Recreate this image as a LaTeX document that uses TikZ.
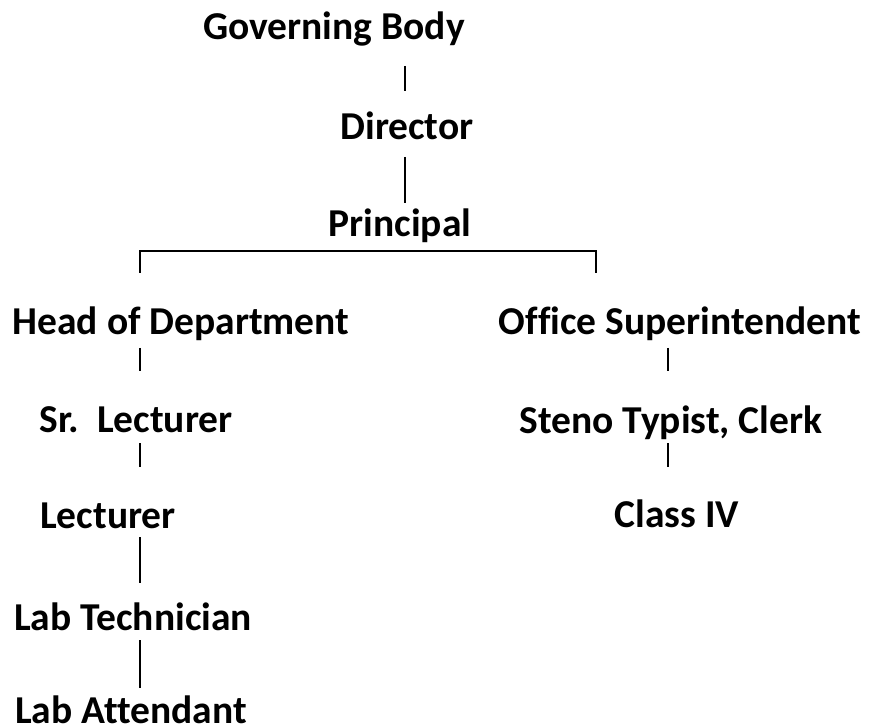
\documentclass[tikz,border=0pt]{standalone}
\usepackage{fontspec}
\setmainfont{Carlito}[Ligatures=NoCommon]
\usetikzlibrary{positioning}

\begin{document}
\begin{tikzpicture}[
  x=1pt, y=-1pt,
  role/.style = {anchor=base, inner sep=0pt, font=\fontsize{39.5}{46}\selectfont\bfseries},
  link/.style = {draw, line width=1.5pt}
]
\useasboundingbox (0,0) rectangle (873,727);

% ---- top of the chain ----
\node[role] (gov) at (334,40)  {Governing Body};
\node[role] (dir) at (407,140) {Director};
\node[role] (pri) at (400,237) {Principal};

% ---- two branches ----
\node[role] (hod)   at (181,335) {Head of Department};
\node[role] (osup)  at (680,335) {Office Superintendent};
\node[role] (srl)   at (136,432) {Sr.\ \ Lecturer};
\node[role] (steno) at (671,433) {Steno Typist, Clerk};
\node[role] (lec)   at (108,528) {Lecturer};
\node[role] (cls)   at (677,527) {Class IV};
\node[role] (tech)  at (133,630) {Lab Technician};
\node[role] (att)   at (131,723) {Lab Attendant};

% ---- bracket under the principal ----
\coordinate (bl) at (140,251);
\coordinate (br) at (596,251);

% ---- connectors ----
\draw[link] ([xshift=71pt,yshift=-26pt]gov.base) -- ([xshift=-2pt,yshift=49pt]dir.base);
\draw[link] ([xshift=-2pt,yshift=-17pt]dir.base) -- ([xshift=5pt,yshift=34pt]pri.base);
\draw[link] ([yshift=-22pt]bl) -- (bl) -- (br) -- ([yshift=-22pt]br);

\draw[link] ([xshift=-41pt,yshift=-13pt]hod.base) -- ([xshift=4pt,yshift=61pt]srl.base);
\draw[link] ([xshift=4pt,yshift=-11pt]srl.base) -- ([xshift=32pt,yshift=61pt]lec.base);
\draw[link] ([xshift=32pt,yshift=-9pt]lec.base) -- ([xshift=7pt,yshift=47pt]tech.base);
\draw[link] ([xshift=7pt,yshift=-10pt]tech.base) -- ([xshift=9pt,yshift=35pt]att.base);

\draw[link] ([xshift=-12pt,yshift=-13pt]osup.base) -- ([xshift=-3pt,yshift=62pt]steno.base);
\draw[link] ([xshift=-3pt,yshift=-10pt]steno.base) -- ([xshift=-9pt,yshift=60pt]cls.base);
\end{tikzpicture}
\end{document}
